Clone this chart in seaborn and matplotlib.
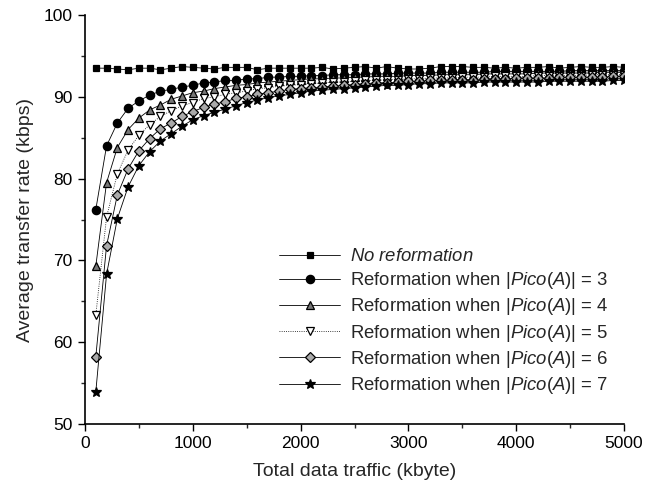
import numpy as np
import pandas as pd
import matplotlib
matplotlib.use("Agg")
import matplotlib.pyplot as plt
from matplotlib.ticker import MultipleLocator
import seaborn as sns

# ---- data ----
traffic = np.arange(100, 5001, 100)  # kbyte

no_reform = [93.5, 93.5, 93.4, 93.3, 93.5, 93.5, 93.3, 93.5, 93.7, 93.6,
             93.5, 93.4, 93.6, 93.6, 93.6, 93.3, 93.5, 93.5, 93.5, 93.5,
             93.5, 93.6, 93.4, 93.5, 93.6, 93.7, 93.5, 93.7, 93.5, 93.4,
             93.4, 93.5, 93.7, 93.7, 93.7, 93.6, 93.6, 93.5, 93.6, 93.5,
             93.6, 93.6, 93.7, 93.5, 93.6, 93.7, 93.6, 93.6, 93.7, 93.6]
pico3 = [76.2, 84.0, 86.8, 88.6, 89.5, 90.2, 90.7, 90.9, 91.2, 91.4,
         91.7, 91.8, 92.0, 92.0, 92.2, 92.2, 92.4, 92.4, 92.5, 92.5,
         92.6, 92.6, 92.7, 92.7, 92.7, 92.8, 92.8, 92.8, 92.9, 92.9,
         92.9, 92.9, 93.0, 93.0, 93.0, 93.0, 93.0, 93.1, 93.1, 93.1,
         93.1, 93.1, 93.1, 93.1, 93.2, 93.2, 93.2, 93.2, 93.2, 93.2]
pico4 = [69.3, 79.5, 83.8, 86.0, 87.4, 88.4, 89.0, 89.7, 90.1, 90.5,
         90.7, 91.0, 91.2, 91.4, 91.5, 91.7, 91.8, 91.9, 92.0, 92.1,
         92.2, 92.2, 92.3, 92.3, 92.4, 92.4, 92.5, 92.5, 92.5, 92.6,
         92.6, 92.6, 92.7, 92.7, 92.7, 92.7, 92.8, 92.8, 92.8, 92.8,
         92.8, 92.9, 92.9, 92.9, 92.9, 92.9, 92.9, 93.0, 93.0, 93.0]
pico5 = [63.3, 75.3, 80.6, 83.5, 85.3, 86.6, 87.6, 88.3, 88.9, 89.3,
         89.8, 90.0, 90.3, 90.5, 90.7, 91.0, 91.1, 91.3, 91.4, 91.5,
         91.6, 91.7, 91.8, 91.8, 91.9, 92.0, 92.0, 92.1, 92.1, 92.2,
         92.2, 92.3, 92.3, 92.3, 92.4, 92.4, 92.4, 92.5, 92.5, 92.5,
         92.5, 92.6, 92.6, 92.6, 92.6, 92.6, 92.7, 92.7, 92.7, 92.7]
pico6 = [58.2, 71.8, 78.0, 81.2, 83.4, 84.9, 86.1, 86.8, 87.6, 88.2,
         88.7, 89.1, 89.4, 89.8, 90.0, 90.3, 90.5, 90.7, 90.9, 91.0,
         91.1, 91.2, 91.3, 91.4, 91.5, 91.6, 91.7, 91.7, 91.8, 91.9,
         91.9, 92.0, 92.0, 92.1, 92.1, 92.1, 92.2, 92.2, 92.2, 92.3,
         92.3, 92.3, 92.3, 92.4, 92.4, 92.4, 92.4, 92.4, 92.5, 92.5]
pico7 = [53.9, 68.3, 75.1, 79.0, 81.6, 83.3, 84.6, 85.5, 86.4, 87.2,
         87.7, 88.1, 88.5, 88.9, 89.3, 89.6, 89.9, 90.1, 90.3, 90.5,
         90.7, 90.8, 90.9, 91.0, 91.1, 91.2, 91.3, 91.4, 91.4, 91.5,
         91.6, 91.6, 91.7, 91.7, 91.7, 91.7, 91.8, 91.8, 91.8, 91.8,
         91.8, 91.8, 91.9, 91.9, 91.9, 91.9, 91.9, 91.9, 92.0, 92.0]

labels = ["$\\mathit{No\\ reformation}$",
          "Reformation when |$\\mathit{Pico(A)}$| = 3",
          "Reformation when |$\\mathit{Pico(A)}$| = 4",
          "Reformation when |$\\mathit{Pico(A)}$| = 5",
          "Reformation when |$\\mathit{Pico(A)}$| = 6",
          "Reformation when |$\\mathit{Pico(A)}$| = 7"]
series = [no_reform, pico3, pico4, pico5, pico6, pico7]

# ---- style ----
sns.set_style("ticks")
plt.rcParams["font.family"] = ["Liberation Sans", "DejaVu Sans"]
plt.rcParams["mathtext.fontset"] = "custom"
plt.rcParams["mathtext.it"] = "Liberation Sans:italic"
plt.rcParams["mathtext.rm"] = "Liberation Sans"

styles = [
    dict(marker="s", ms=5, mfc="black", mec="black", ls="-"),
    dict(marker="o", ms=6, mfc="black", mec="black", ls="-"),
    dict(marker="^", ms=6, mfc="#777777", mec="black", ls="-"),
    dict(marker="v", ms=6, mfc="white", mec="black", ls=":"),
    dict(marker="D", ms=5, mfc="#aaaaaa", mec="black", ls="-"),
    dict(marker="*", ms=7, mfc="black", mec="black", ls="-"),
]

fig = plt.figure(figsize=(6.59, 4.88), dpi=100)
ax = fig.add_axes([85 / 659, 1 - 424 / 488, 539 / 659, 409 / 488])

for vals, lab, st in zip(series, labels, styles):
    df = pd.DataFrame({"x": traffic, "y": vals})
    sns.lineplot(data=df, x="x", y="y", ax=ax, color="black", lw=0.6,
                 marker=st["marker"], markersize=st["ms"],
                 markerfacecolor=st["mfc"], markeredgecolor=st["mec"],
                 markeredgewidth=0.9, linestyle=st["ls"], label=lab,
                 errorbar=None)

ax.set_xlim(0, 5000)
ax.set_ylim(50, 100)
ax.xaxis.set_major_locator(MultipleLocator(1000))
ax.xaxis.set_minor_locator(MultipleLocator(500))
ax.yaxis.set_major_locator(MultipleLocator(10))
ax.yaxis.set_minor_locator(MultipleLocator(5))
ax.tick_params(which="major", direction="out", length=5, width=1, labelsize=12.5,
               colors="black", pad=4)
ax.tick_params(which="minor", direction="out", length=3, width=1)
for s in ["top", "right"]:
    ax.spines[s].set_visible(False)
for s in ["left", "bottom"]:
    ax.spines[s].set_linewidth(1.2)
    ax.spines[s].set_color("black")

ax.set_xlabel("Total data traffic (kbyte)", fontsize=14, labelpad=8)
ax.set_ylabel("Average transfer rate (kbps)", fontsize=14, labelpad=7)

leg = ax.legend(loc="upper left", bbox_to_anchor=(0.36, 0.43), frameon=False,
                fontsize=13.3, numpoints=1, handlelength=3.3, handletextpad=0.55,
                labelspacing=0.28, borderpad=0, borderaxespad=0)

fig.savefig("out.png", dpi=100)
